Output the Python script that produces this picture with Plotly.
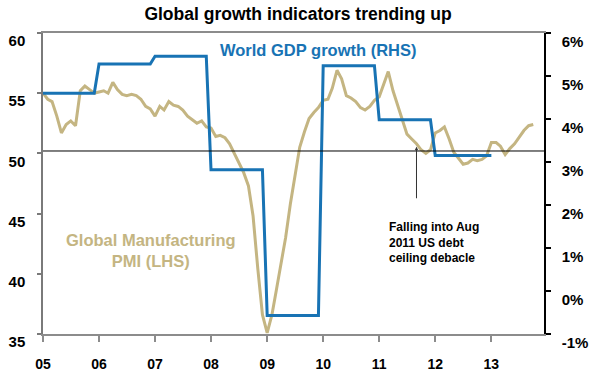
import plotly.graph_objects as go
import pandas as pd

# ---- data ----
pmi_start = "2005-01-01"
pmi_values = [
    55.0, 54.5, 54.3, 53.1, 51.7, 52.4, 52.7, 52.3, 55.2, 55.6, 55.3, 55.0,   # 2005
    55.1, 55.2, 55.0, 55.9, 55.3, 54.9, 54.8, 54.9, 54.8, 54.5, 53.9, 53.7,   # 2006
    53.1, 53.9, 53.6, 54.3, 54.0, 53.9, 53.6, 53.1, 52.8, 52.5, 52.7, 52.2,   # 2007
    52.1, 51.4, 51.5, 51.3, 50.8, 50.0, 49.1, 48.4, 47.3, 44.8, 40.4, 36.6,   # 2008
    35.1, 36.6, 38.6, 41.0, 43.0, 45.8, 48.2, 50.5, 51.8, 52.9, 53.4, 53.8,   # 2009
    54.4, 54.5, 55.4, 56.9, 56.2, 54.8, 54.6, 54.3, 53.8, 53.6, 53.9, 54.4,   # 2010
    54.7, 55.9, 56.8, 55.2, 54.0, 52.8, 51.6, 51.2, 50.8, 50.3, 50.0, 50.3,   # 2011
    51.7, 51.9, 52.2, 51.2, 50.1, 49.6, 49.1, 49.2, 49.5, 49.4, 49.5, 49.8,   # 2012
    50.9, 50.9, 50.6, 49.9, 50.4, 50.8, 51.3, 51.9, 52.3, 52.4,               # 2013
]
gdp_years = [2005, 2006, 2007, 2008, 2009, 2010, 2011, 2012]
gdp_values = [4.6, 5.28, 5.46, 2.82, -0.57, 5.24, 3.98, 3.15]

year_ticks = ["2005-01-01", "2006-01-01", "2007-01-01", "2008-01-01", "2009-01-01",
              "2010-01-01", "2011-01-01", "2012-01-01", "2013-01-01"]
year_labels = ["05", "06", "07", "08", "09", "10", "11", "12", "13"]
left_ticks = [35, 40, 45, 50, 55, 60]
right_ticks = [-1, 0, 1, 2, 3, 4, 5, 6]
right_labels = ["-1%", "0%", "1%", "2%", "3%", "4%", "5%", "6%"]

threshold = 50.2

# ---- build ----
pmi_dates = pd.date_range(pmi_start, periods=len(pmi_values), freq="MS")

gdp_x, gdp_y = [], []
for i, (yr, v) in enumerate(zip(gdp_years, gdp_values)):
    gdp_x.append(pd.Timestamp(f"{yr}-01-01"))
    gdp_y.append(v)
    end = pd.Timestamp(f"{yr}-12-01") if i < len(gdp_years) - 1 else pd.Timestamp(f"{yr + 1}-01-01")
    gdp_x.append(end)
    gdp_y.append(v)

BLUE = "#1873B4"
GOLD = "#C4B582"
FONT = "Liberation Sans, Arial, sans-serif"

fig = go.Figure()
fig.add_trace(go.Scatter(x=pmi_dates, y=pmi_values, mode="lines",
                         line=dict(color=GOLD, width=3), yaxis="y", showlegend=False))
fig.add_trace(go.Scatter(x=gdp_x, y=gdp_y, mode="lines",
                         line=dict(color=BLUE, width=3), yaxis="y2", showlegend=False))

fig.update_layout(
    width=596, height=385,
    margin=dict(l=43, r=52, t=33, b=51),
    paper_bgcolor="white", plot_bgcolor="white",
    font=dict(family=FONT, color="black"),
    title=dict(text="<b>Global growth indicators trending up</b>", x=0.5, xanchor="center",
               y=1 - 14 / 385, yanchor="middle", font=dict(size=17.5, color="black")),
    xaxis=dict(
        type="date", range=["2005-01-01", "2013-12-10"],
        tickvals=year_ticks, ticktext=year_labels,
        showgrid=False, zeroline=False, automargin=False,
        showline=True, linecolor="#8c8c8c", linewidth=1.5, mirror=True,
        ticks="outside", ticklen=6, tickcolor="#8c8c8c", tickwidth=1.5,
        tickfont=dict(size=14, weight="bold", color="black"),
        ticklabelstandoff=10,
    ),
    yaxis=dict(
        range=[35, 60], tickvals=left_ticks,
        showgrid=False, zeroline=False, automargin=False,
        showline=True, linecolor="#7a7a7a", linewidth=1.5,
        ticks="outside", ticklen=4, tickcolor="#7a7a7a", tickwidth=1.5,
        tickfont=dict(size=15, weight="bold", color="black"),
        ticklabelshift=8, ticklabelstandoff=9,
    ),
    yaxis2=dict(
        range=[-1, 6], tickvals=right_ticks, ticktext=right_labels,
        overlaying="y", side="right", automargin=False,
        showgrid=False, zeroline=False,
        showline=True, linecolor="black", linewidth=1.5,
        ticks="outside", ticklen=5, tickcolor="black", tickwidth=1.5,
        tickfont=dict(size=15, weight="bold", color="black"),
        ticklabelshift=9, ticklabelstandoff=8,
    ),
)

fig.add_shape(type="line", xref="paper", x0=0, x1=1, yref="y", y0=threshold, y1=threshold,
              line=dict(color="black", width=1))

fig.add_annotation(xref="paper", yref="paper", x=0.5486, y=0.9445,
                   text="<b>World GDP growth (RHS)</b>", showarrow=False,
                   font=dict(size=16.5, color=BLUE), xanchor="center", yanchor="middle")
fig.add_annotation(xref="paper", yref="paper", x=0.215, y=0.279,
                   text="<b>Global Manufacturing<br>PMI (LHS)</b>", showarrow=False,
                   font=dict(size=16.5, color=GOLD), xanchor="center", yanchor="middle",
                   align="center")
fig.add_annotation(xref="paper", yref="paper", x=0.686, y=0.385,
                   text="<b>Falling into Aug<br>2011 US debt<br>ceiling debacle</b>", showarrow=False,
                   font=dict(size=12, color="black"), xanchor="left", yanchor="top",
                   align="left")
fig.add_annotation(xref="x", yref="y", x="2011-09-01", y=50.55, ax=0, ay=53,
                   text="", showarrow=True, arrowhead=2, arrowsize=0.7, arrowwidth=1,
                   arrowcolor="#333333")

fig.write_html("out.html", config={"displayModeBar": False},
               post_script="document.body.style.margin='0';")
